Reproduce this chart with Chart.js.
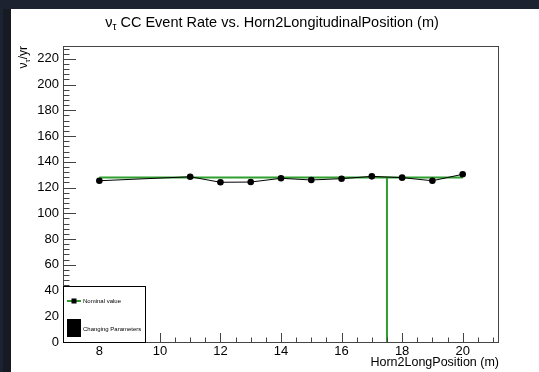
<!DOCTYPE html>
<html lang="en">
<head>
<meta charset="UTF-8">
<script src="https://cdn.jsdelivr.net/npm/chart.js@4.4.0/dist/chart.umd.min.js"></script>
<title>Horn2 longitudinal position scan</title>
<style>
    body { margin: 0; background: #1c2230; width: 539px; height: 372px; overflow: hidden; }
    #strip { position: absolute; left: 3px; top: 9px; width: 8px; height: 363px; background: #151a23; }
    #frame { position: absolute; left: 11px; top: 9px; width: 528px; height: 363px; background: #fff; }
</style>
</head>
<body>
<div id="strip"></div>
<div id="frame"><canvas id="scan" width="528" height="363"></canvas></div>

<script>
    // scan points: horn 2 position (m) and nu_tau CC events per year
    var positions = [8, 11, 12, 13, 14, 15, 16, 17, 18, 19, 20];
    var eventRates = [125.3, 128.4, 124.1, 124.3, 127.2, 125.9, 126.9, 128.7, 127.7, 125.3, 130.3];

    // nominal configuration
    var nominalPositions = [8, 20];
    var nominalRates = [127.9, 127.9];
    var nominalMarkerX = [17.5, 17.5];
    var nominalMarkerY = [127.9, 0];

    var xTicks = [8, 10, 12, 14, 16, 18, 20];
    var yTicks = [0, 20, 40, 60, 80, 100, 120, 140, 160, 180, 200, 220];
    var legendLabels = ['Nominal value', 'Changing Parameters'];

    var green = '#2f9f2f';
    var font = '"Liberation Sans", Arial, sans-serif';

    function pts(xs, ys) {
        return xs.map(function (x, i) { return { x: x, y: ys[i] }; });
    }

    // ROOT style frame, inward ticks, titles and legend
    var rootStyle = {
        id: 'rootStyle',
        afterDraw: function (chart) {
            var ctx = chart.ctx;
            var a = chart.chartArea;
            var xs = chart.scales.x, ys = chart.scales.y;
            ctx.save();

            // frame
            ctx.strokeStyle = '#444';
            ctx.lineWidth = 1;
            ctx.strokeRect(a.left + 0.5, a.top + 0.5, a.right - a.left - 1, a.bottom - a.top);

            // ticks
            ctx.beginPath();
            for (var v = 0; v < ys.max; v += 4) {
                var py = Math.round(ys.getPixelForValue(v)) + 0.5;
                var len = yTicks.indexOf(v) >= 0 ? 13 : 6.5;
                ctx.moveTo(a.left, py); ctx.lineTo(a.left + len, py);
            }
            for (var u = 7; u <= 21; u += 0.5) {
                var px = Math.round(xs.getPixelForValue(u)) + 0.5;
                var l2 = xTicks.indexOf(u) >= 0 ? 9 : 4.5;
                ctx.moveTo(px, a.bottom); ctx.lineTo(px, a.bottom - l2);
            }
            ctx.stroke();

            // main title
            ctx.fillStyle = '#000';
            ctx.textBaseline = 'alphabetic';
            ctx.font = '14.5px ' + font;
            var rest = ' CC Event Rate vs. Horn2LongitudinalPosition (m)';
            var wNu = ctx.measureText('\u03bd').width;
            var wRest = ctx.measureText(rest).width;
            ctx.font = '10px ' + font;
            var wTau = ctx.measureText('\u03c4').width;
            var x0 = 261 - (wNu + wTau + wRest) / 2;
            ctx.font = '14.5px ' + font;
            ctx.textAlign = 'left';
            ctx.fillText('\u03bd', x0, 18);
            ctx.fillText(rest, x0 + wNu + wTau, 18);
            ctx.font = '10px ' + font;
            ctx.fillText('\u03c4', x0 + wNu, 21);

            // y title, right aligned to the top of the axis
            ctx.save();
            ctx.translate(16, a.top);
            ctx.rotate(-Math.PI / 2);
            ctx.font = '12px ' + font;
            var wA = ctx.measureText('\u03bd').width;
            var wC = ctx.measureText('/yr').width;
            ctx.font = '8px ' + font;
            var wB = ctx.measureText('\u03c4').width;
            var s = -(wA + wB + wC);
            ctx.font = '12px ' + font;
            ctx.fillText('\u03bd', s, 0);
            ctx.fillText('/yr', s + wA + wB, 0);
            ctx.font = '8px ' + font;
            ctx.fillText('\u03c4', s + wA, 2.5);
            ctx.restore();

            // x title
            ctx.font = '12.5px ' + font;
            ctx.textAlign = 'right';
            ctx.fillText('Horn2LongPosition (m)', a.right, 357);

            // legend
            var lx = a.left, ly = 277, lw = 82, lh = a.bottom - 277;
            ctx.fillStyle = '#fff';
            ctx.fillRect(lx + 1, ly + 1, lw - 1, lh - 1);
            ctx.strokeStyle = '#000';
            ctx.strokeRect(lx + 0.5, ly + 0.5, lw, lh);
            ctx.strokeStyle = green;
            ctx.lineWidth = 2;
            ctx.beginPath();
            ctx.moveTo(lx + 4, ly + 15); ctx.lineTo(lx + 18, ly + 15);
            ctx.stroke();
            ctx.fillStyle = '#000';
            ctx.fillRect(lx + 8.5, ly + 12.5, 5, 5);
            ctx.fillRect(lx + 4, ly + 33, 14, 18);
            ctx.font = '6px ' + font;
            ctx.textAlign = 'left';
            ctx.textBaseline = 'middle';
            ctx.fillText(legendLabels[0], lx + 20, ly + 15);
            ctx.fillText(legendLabels[1], lx + 20, ly + 43);

            ctx.restore();
        }
    };

    var ctx = document.getElementById('scan').getContext('2d');
    var chart = new Chart(ctx, {
        type: 'scatter',
        data: {
            datasets: [{
                label: legendLabels[1],
                data: pts(positions, eventRates),
                showLine: true,
                borderColor: '#000',
                borderWidth: 1,
                backgroundColor: '#000',
                pointRadius: 3.3,
                pointBorderWidth: 0
            }, {
                label: legendLabels[0],
                data: pts(nominalPositions, nominalRates),
                showLine: true,
                borderColor: green,
                borderWidth: 2,
                pointRadius: 0
            }, {
                label: 'nominal position',
                data: pts(nominalMarkerX, nominalMarkerY),
                showLine: true,
                borderColor: green,
                borderWidth: 2,
                pointRadius: 0
            }]
        },
        options: {
            responsive: false,
            animation: false,
            layout: { padding: { left: 0, top: 37, right: 40, bottom: 0 } },
            plugins: { legend: { display: false }, tooltip: { enabled: false } },
            scales: {
                x: {
                    type: 'linear',
                    min: 6.8,
                    max: 21.2,
                    grid: { display: false, drawTicks: false },
                    border: { display: false },
                    afterBuildTicks: function (s) { s.ticks = xTicks.map(function (v) { return { value: v }; }); },
                    afterFit: function (s) { s.height = 30; },
                    ticks: { color: '#000', padding: 2, maxRotation: 0, font: { family: font, size: 13 } }
                },
                y: {
                    min: 0,
                    max: 230,
                    grid: { display: false, drawTicks: false },
                    border: { display: false },
                    afterBuildTicks: function (s) { s.ticks = yTicks.map(function (v) { return { value: v }; }); },
                    afterFit: function (s) { s.width = 52; },
                    ticks: { color: '#000', padding: 4, font: { family: font, size: 13 } }
                }
            }
        },
        plugins: [rootStyle]
    });
</script>
</body>
</html>
